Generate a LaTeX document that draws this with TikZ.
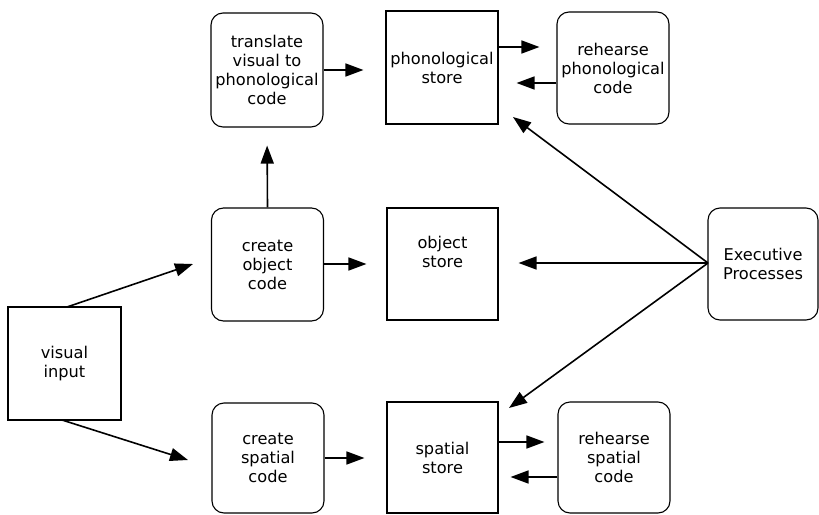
\documentclass[tikz,border=0pt]{standalone}
\usepackage{fontspec}
\setmainfont{DejaVu Sans}
\usetikzlibrary{arrows.meta}
\begin{document}
\begin{tikzpicture}[x=1pt,y=-1pt,
  box/.style={draw, line width=1.1pt, minimum width=112pt, minimum height=113pt,
    align=center, inner sep=2pt, font=\fontsize{16.2}{19}\selectfont},
  rbox/.style={box, rounded corners=12pt},
  arr/.style={line width=1.6pt, -{Triangle[length=18pt,width=13pt]}}]
\useasboundingbox (0,0) rectangle (819,514);

% nodes
\node[box, minimum width=113pt] (vis) at (64.5,363.5) {visual\\input};
\node[rbox, minimum height=114pt] (trans) at (267,70) {translate\\visual to\\phonological\\code};
\node[rbox] (cobj) at (267.5,264.5) {create\\object\\code};
\node[rbox, minimum height=110pt] (cspa) at (268,458) {create\\spatial\\code};
\node[box] (phon) at (442,67.5) {phonological\\store};
\node[box, minimum width=111pt, minimum height=112pt] (ostore) at (442.5,264) {object\\store\\[6pt]};
\node[box, minimum width=111pt, minimum height=111pt] (sstore) at (442.5,457.5) {spatial\\store};
\node[rbox, minimum height=112pt] (rphon) at (613,68) {rehearse\\phonological\\code};
\node[rbox, minimum height=111pt] (rspa) at (614,457.5) {rehearse\\spatial\\code};
\node[rbox, minimum width=110pt, minimum height=112pt] (exec) at (763,264) {Executive\\Processes};

% free ends
\coordinate (visA) at (67,307);
\coordinate (visB) at (62,420);
\coordinate (tipA) at (193,264);
\coordinate (tipB) at (188,460);
\coordinate (exo) at (708,263);
\coordinate (tipP) at (513,117);
\coordinate (tipS) at (509,408);

% connectors
\draw[arr] (visA) -- (tipA);
\draw[arr] (visB) -- (tipB);
\draw[arr, shorten >=18pt] (cobj.north) -- (trans.south);
\draw[arr, shorten >=22pt] (trans.east) -- (trans.east -| phon.west);
\draw[arr, shorten >=20pt] (cobj.east |- ostore.west) -- (ostore.west);
\draw[arr, shorten >=22pt] (cspa.east) -- (cspa.east -| sstore.west);
\draw[arr, shorten >=17pt] (phon.east |- 0,47) -- (rphon.west |- 0,47);
\draw[arr, shorten >=18pt] (rphon.west |- 0,83) -- (phon.east |- 0,83);
\draw[arr, shorten >=13pt] (sstore.east |- 0,442) -- (rspa.west |- 0,442);
\draw[arr, shorten >=12pt] (rspa.west |- 0,477) -- (sstore.east |- 0,477);
\draw[arr, shorten >=20pt] (exo) -- (exo -| ostore.east);
\draw[arr] (exo) -- (tipP);
\draw[arr] (exo) -- (tipS);
\end{tikzpicture}
\end{document}
